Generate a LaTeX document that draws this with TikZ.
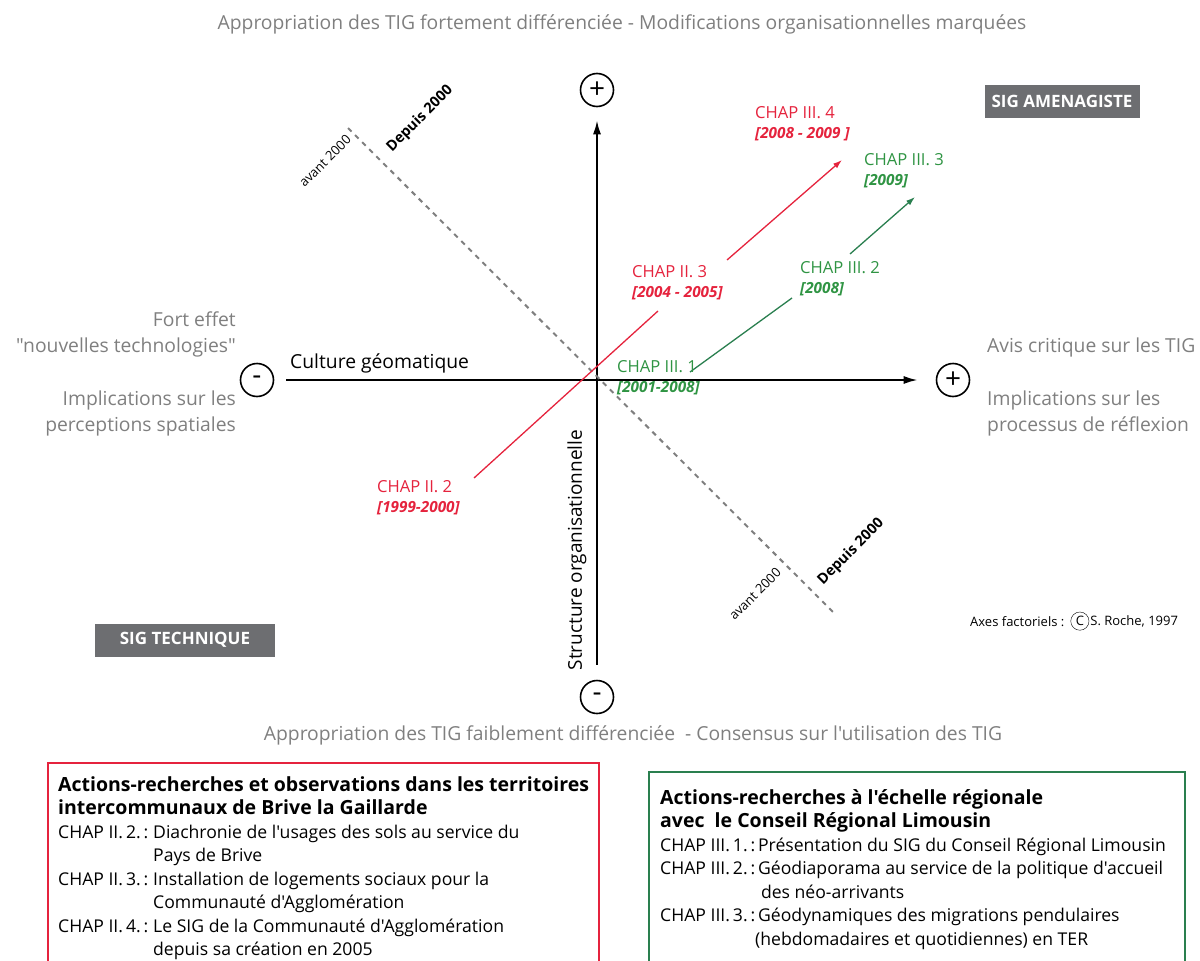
\documentclass[tikz,border=0pt]{standalone}
\usepackage{fontspec}
\setmainfont{Open Sans}[Ligatures=TeXOff]
\usepackage{xcolor}
\usetikzlibrary{arrows.meta,positioning}
\definecolor{Gris}{HTML}{7F7F7F}
\definecolor{Rouge}{HTML}{E5233D}
\definecolor{Vert}{HTML}{2F9443}
\definecolor{VertFonce}{HTML}{2A7F4F}
\definecolor{Boite}{HTML}{6D6E71}
\newcommand\annees[1]{{\fontsize{15.3}{20}\selectfont\bfseries\itshape #1}}
\newcommand\etiq[1]{\makebox[95pt][l]{#1}}
\newcommand\titre{\bfseries\fontsize{19.5}{23.5}\selectfont}

\begin{document}
\begin{tikzpicture}[x=1pt,y=-1pt,
  sign/.style={circle, draw, line width=1.6pt, minimum size=33pt, inner sep=0pt,
    font=\fontsize{28}{28}\selectfont},
  axis/.style={-{Latex[length=14pt,width=8pt]}, line width=2pt},
  rouge/.style={draw=Rouge, line width=1.3pt},
  vert/.style={draw=VertFonce, line width=1.3pt},
  pointe/.style={-{Latex[length=9pt,width=6pt]}},
  limite/.style={draw=Gris, line width=2pt, dash pattern=on 5pt off 5pt},
  gris/.style={text=Gris, font=\fontsize{19.3}{26}\selectfont, inner sep=0pt},
  chap/.style={font=\fontsize{16.6}{20}\selectfont, align=left, inner sep=0pt, anchor=north west},
  quadrant/.style={fill=Boite, text=white, font=\bfseries\fontsize{17}{17}\selectfont,
    minimum height=33pt, inner sep=0pt},
  periode/.style={font=\fontsize{13}{13}\selectfont, rotate=45, inner sep=0pt},
  periodegras/.style={periode, font=\bfseries\fontsize{14.5}{14.5}\selectfont},
  cadre/.style={line width=1.5pt, anchor=north west, inner sep=0pt},
  liste/.style={font=\fontsize{17.6}{23.5}\selectfont, align=left, inner sep=0pt},
  petit/.style={font=\fontsize{13}{13}\selectfont, inner sep=0pt}
]
  \useasboundingbox (0,0) rectangle (1200,961);

  % titres des demi-axes verticaux
  \node[gris, anchor=base] (titreH) at (622,29)
    {Appropriation des TIG fortement différenciée - Modifications organisationnelles marquées};
  \node[gris, anchor=base] (titreB) at (633,740)
    {Appropriation des TIG faiblement différenciée \ - Consensus sur l'utilisation des TIG};

  % textes des demi-axes horizontaux
  \node[gris, align=right, anchor=north east] (effet) at (236,312)
    {Fort effet\\"nouvelles technologies"};
  \node[gris, align=right, anchor=north east] (percep) at (236,391)
    {Implications sur les\\perceptions spatiales};
  \node[gris, align=left, anchor=north west] (avis) at (987,338)
    {Avis critique sur les TIG};
  \node[gris, align=left, anchor=north west] (reflex) at (987,391)
    {Implications sur les\\processus de réflexion};

  % axes
  \node[sign] (plusH) at (597,90) {+};
  \node[sign] (moinsB) at (597,697) {-};
  \node[sign] (moinsG) at (257,380) {-};
  \node[sign] (plusD) at (953,380) {+};
  \draw[axis, shorten <=12pt, shorten >=18pt] (moinsG) -- (plusD);
  \draw[axis, shorten <=15pt, shorten >=13pt] (moinsB) -- (plusH);
  \node[anchor=base west, inner sep=0pt, font=\fontsize{19.3}{19}\selectfont] (culture) at (290,368)
    {Culture géomatique};
  \node[rotate=90, inner sep=0pt, font=\fontsize{19}{19}\selectfont] (structure) at (577,550)
    {Structure organisationnelle};

  % limite avant / depuis 2000
  \coordinate (limA) at (348,128);
  \coordinate (limB) at (835,614);
  \draw[limite] (limA) -- (limB);
  \node[periode] (avantA) at (325,161) {avant 2000};
  \node[periodegras] (depuisA) at (420,119) {Depuis 2000};
  \node[periode] (avantB) at (755,594) {avant 2000};
  \node[periodegras] (depuisB) at (851,552) {Depuis 2000};

  % trajectoires
  \coordinate (r1) at (474,478); \coordinate (r2) at (658,311);
  \coordinate (r3) at (727,260); \coordinate (r4) at (842,160);
  \coordinate (v1) at (690,372); \coordinate (v2) at (792,298);
  \coordinate (v3) at (850,254); \coordinate (v4) at (915,197);
  \draw[rouge] (r1) -- (r2);
  \draw[rouge, pointe] (r3) -- (r4);
  \draw[vert] (v1) -- (v2);
  \draw[vert, pointe] (v3) -- (v4);

  \node[chap, text=Rouge] (c22) at (377,480) {CHAP II. 2\\\annees{[1999-2000]}};
  \node[chap, text=Rouge] (c23) at (632,265) {CHAP II. 3\\\annees{[2004 - 2005]}};
  \node[chap, text=Rouge] (c34) at (755,106) {CHAP III. 4\\\annees{[2008 - 2009 ]}};
  \node[chap, text=Vert] (c33) at (864,153) {CHAP III. 3\\\annees{[2009]}};
  \node[chap, text=Vert] (c32) at (800,261) {CHAP III. 2\\\annees{[2008]}};
  \node[chap, text=Vert] (c31) at (617,360) {CHAP III. 1\\\annees{[2001-2008]}};

  % quadrants
  \node[quadrant, minimum width=155pt] (amenag) at (1062,101) {SIG AMENAGISTE};
  \node[quadrant, minimum width=180pt] (techn) at (185,640) {SIG TECHNIQUE};

  % source
  \node[petit, anchor=base west] (axes) at (970,626) {Axes factoriels :};
  \node[petit, circle, draw, thin, inner sep=2pt, right=6pt of axes] (copy) {C};
  \node[petit, right=1pt of copy] (roche) {S. Roche, 1997};

  % legendes
  \node[cadre, draw=Rouge, minimum width=551pt, minimum height=215pt] (cadreR) at (47,762) {};
  \node[liste, below right=14pt and 11pt of cadreR.north west] (listeR) {%
    {\titre Actions-recherches et observations dans les territoires}\\
    {\titre intercommunaux de Brive la Gaillarde}\\
    \etiq{CHAP II.\,2.\,:}Diachronie de l'usages des sols au service du\\
    \etiq{}Pays de Brive\\
    \etiq{CHAP II.\,3.\,:}Installation de logements sociaux pour la\\
    \etiq{}Communauté d'Agglomération\\
    \etiq{CHAP II.\,4.\,:}Le SIG de la Communauté d'Agglomération\\
    \etiq{}depuis sa création en 2005};

  \node[cadre, draw=VertFonce, minimum width=536pt, minimum height=205pt] (cadreV) at (648,771) {};
  \node[liste, below right=18pt and 12pt of cadreV.north west] (listeV) {%
    {\titre Actions-recherches à l'échelle régionale}\\
    {\titre avec \ le Conseil Régional Limousin}\\
    \etiq{CHAP III.\,1.\,:}\,Présentation du SIG du Conseil Régional Limousin\\
    \etiq{CHAP III.\,2.\,:}\,Géodiaporama au service de la politique d'accueil\\
    \etiq{}\,\,des néo-arrivants\\
    \etiq{CHAP III.\,3.\,:}\,Géodynamiques des migrations pendulaires\\
    \etiq{}(hebdomadaires et quotidiennes) en TER};
\end{tikzpicture}
\end{document}
